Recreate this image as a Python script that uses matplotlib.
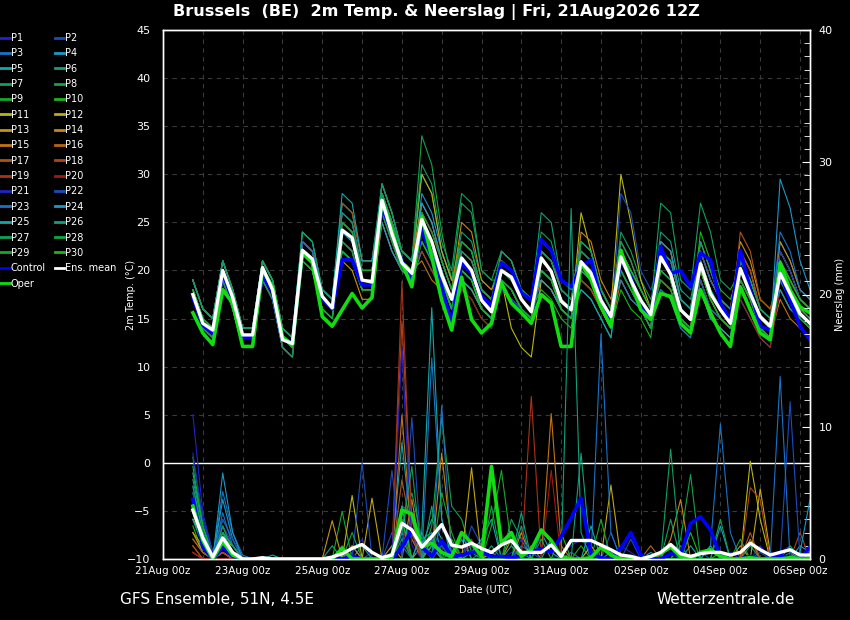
import numpy as np
import pandas as pd
import matplotlib
matplotlib.use("Agg")
import matplotlib.pyplot as plt
import matplotlib.dates as mdates
from matplotlib.ticker import MultipleLocator
from matplotlib.lines import Line2D

# --- tijdas: 6-uurlijkse stappen vanaf 21Aug 18z ---
times = pd.date_range("2026-08-21 18:00", periods=63, freq="6h")

# --- gemiddelde, controle en operationele run (2m temp, degC) ---
mean_t = [17.5,14.5,13.8,20.0,17.2,13.3,13.3, 20.3,18.0,12.8,12.4, 22.1,21.2,17.3,16.1, 24.2,23.4,19.0,18.8,
          27.3,23.8,20.8,19.7, 25.3,23.0,19.5,17.0, 21.3,20.0,16.9,15.7, 20.0,19.3,17.0,15.7, 21.3,19.9,16.8,15.9,
          20.9,19.7,16.9,15.2, 21.4,19.0,16.9,15.4, 21.4,19.6,15.9,14.9, 20.7,17.6,15.9,14.5, 20.2,17.6,15.2,14.2,
          19.7,17.6,15.5,14.5]
ctrl_t = [17.2,14.3,13.5,19.8,17.0,13.0,13.0, 19.5,17.8,12.8,12.5, 21.8,21.0,17.0,16.0, 21.1,21.1,18.5,18.5,
          26.6,24.0,21.0,19.0, 24.2,21.4,18.3,14.5, 20.8,19.7,17.3,16.4, 20.8,20.0,17.7,16.9, 23.2,22.1,19.0,18.3,
          20.4,21.1,16.9,14.9, 21.1,19.4,16.2,14.9, 22.5,19.7,20.0,18.3, 21.8,21.1,16.6,14.9, 22.1,18.0,14.2,13.8,
          19.7,16.9,14.2,12.8]
oper_t = [15.6,13.5,12.3,18.0,16.6,12.1,12.1, 20.1,18.3,13.1,12.3, 21.8,20.8,15.2,14.2, 15.9,17.6,16.1,17.2,
          27.3,24.2,20.8,18.3, 25.6,21.4,16.9,13.8, 19.3,14.9,13.5,14.5, 18.7,16.6,15.6,14.5, 17.5,16.6,12.1,12.1,
          20.8,19.0,16.2,14.2, 22.1,19.0,15.9,14.9, 17.6,17.3,14.5,13.5, 18.0,15.6,13.5,12.1, 18.3,15.9,13.5,12.8,
          20.8,18.0,16.2,15.6]

# --- neerslag (mm) ---
mean_rr = [3.7,1.6,0.15,1.6,0.5,0,0, 0.1,0,0,0, 0,0,0,0.15, 0.4,0.8,1.1,0.5, 0.1,0.3,2.7,2.2, 0.9,1.7,2.6,1.06,
           0.9,1.2,0.8,0.5, 1.06,1.4,0.5,0.5, 0.5,1.06,0.2,1.4, 1.4,1.4,1.06,0.7, 0.3,0.2,0,0.2, 0.5,1.1,0.4,0.2,
           0.4,0.5,0.5,0.3, 0.5,1.2,0.7,0.3, 0.5,0.7,0.3,0.3]
ctrl_rr = [4.5,0.9,0,0.9,0.2,0,0, 0,0,0,0, 0,0,0,0, 0,0.2,0,0, 0,0,0.9,2.2, 0.9,0.2,1.4,0.2, 0.3,0.5,0.5,0.2,
           0.2,0.1,0.2,0.5, 0.8,0.5,1.7,3.1, 4.6,0.4,0.1,0, 0.8,2.0,0.3,0, 0,0.4,0.3,2.7, 3.2,2.2,0.2,0,
           0,0.2,0,0, 0.3,0,0,0.9]
oper_rr = [4.0,1.4,0,1.3,0.3,0,0, 0,0,0,0, 0,0,0,0, 0.8,0,0,0, 0,0.1,3.7,3.4, 0.9,1.2,0.5,0.2, 2.0,1.2,0.2,7.0,
           1.2,2.0,0.2,0.7, 2.2,1.4,0.2,0, 0,0.1,0.9,0.3, 0,0,0,0.2, 0.4,0.9,0.2,0, 0.5,0.7,0.2,0,
           0,0.1,0,0, 0,0.1,0,0]

# --- ensemble leden P1..P30, temperatuur ---
p01_t = [18,15,14,20,17,13,13, 20,18,13,12, 23,22,18,17, 26,25,20,20, 28,25,22,21, 24,22,19,16, 19,18,16,15, 21,20,18,17, 21,20,17,16, 20,19,16,14, 23,21,18,16, 22,21,17,16, 19,16,15,14, 20,18,15,14, 21,19,17,16]
p02_t = [17,14,13,19,16,12,12, 19,17,12,11, 22,21,17,16, 23,22,18,18, 25,22,20,19, 27,25,21,18, 22,21,18,17, 19,18,16,15, 19,18,16,15, 21,20,17,15, 20,18,16,14, 23,22,17,16, 22,19,17,16, 19,17,14,13, 18,16,15,14]
p03_t = [19,16,15,21,18,14,14, 21,19,14,13, 23,22,18,17, 27,26,21,21, 29,26,22,21, 25,23,20,17, 20,19,16,15, 22,21,18,17, 22,21,18,17, 19,18,16,14, 21,19,17,15, 20,19,15,14, 23,20,17,16, 21,19,16,15, 20,18,16,15]
p04_t = [17,14,13,19,16,12,12, 19,17,12,11, 21,20,16,15, 24,23,19,19, 26,23,20,19, 28,26,22,19, 23,22,18,17, 18,17,16,15, 21,20,17,16, 22,21,18,16, 19,17,16,14, 21,20,16,15, 20,17,15,14, 22,20,16,15, 23,21,18,17]
p05_t = [18,15,14,20,17,13,13, 20,18,13,12, 22,21,17,16, 22,21,18,18, 26,23,20,19, 22,20,18,15, 20,19,16,15, 20,19,17,16, 23,22,18,17, 23,22,18,16, 22,20,18,16, 19,18,15,14, 21,18,16,15, 17,15,13,12, 19,17,15,14]
p06_t = [19,16,15,21,18,14,14, 21,19,14,13, 24,23,18,17, 26,25,20,20, 28,25,22,21, 26,24,21,18, 24,23,19,18, 21,20,18,17, 20,19,16,15, 18,17,15,13, 21,19,17,15, 24,23,18,17, 22,19,17,16, 20,18,15,14, 18,16,15,14]
p07_t = [18,15,14,20,17,13,13, 20,18,13,12, 21,20,16,15, 23,22,18,18, 27,24,21,20, 30,28,22,19, 21,20,17,16, 18,17,16,15, 22,21,18,17, 21,20,17,15, 24,22,19,17, 20,19,15,14, 19,16,15,14, 19,17,14,13, 22,20,17,16]
p08_t = [19,16,15,21,18,14,14, 21,19,14,13, 23,22,18,17, 27,26,21,21, 29,26,22,21, 34,31,24,19, 27,26,20,19, 22,21,18,17, 24,23,19,18, 22,21,18,16, 20,18,16,14, 22,21,17,16, 23,20,17,16, 18,16,14,13, 20,18,16,15]
p09_t = [18,15,14,20,17,13,13, 20,18,13,12, 23,22,18,17, 25,24,20,20, 26,23,20,19, 23,21,19,16, 18,17,15,14, 19,18,16,15, 20,19,16,15, 23,22,18,16, 22,20,18,16, 18,17,14,13, 21,18,16,15, 21,19,16,15, 19,17,15,14]
p10_t = [18,15,14,20,17,13,13, 20,18,13,12, 21,20,16,15, 22,21,18,18, 28,25,22,21, 26,24,21,18, 23,22,18,17, 20,19,17,16, 18,17,15,14, 20,19,16,14, 18,16,15,13, 21,20,16,15, 24,21,18,17, 20,18,15,14, 21,19,17,16]
p11_t = [19,16,15,21,18,14,14, 21,19,14,13, 22,21,17,16, 23,22,18,18, 27,24,21,20, 24,22,19,16, 22,21,18,17, 19,14,12,11, 19,18,16,15, 26,22,18,16, 30,25,19,16, 19,18,15,14, 20,17,15,14, 21,19,16,15, 22,20,17,16]
p12_t = [18,15,14,20,17,13,13, 20,18,13,12, 23,22,18,17, 25,24,20,20, 28,25,22,21, 30,28,22,19, 19,18,16,15, 19,18,16,15, 21,20,17,16, 19,18,16,14, 22,20,18,16, 22,21,17,16, 18,15,14,13, 19,17,14,13, 20,18,16,15]
p13_t = [17,14,13,19,16,12,12, 19,17,12,11, 22,21,17,16, 21,20,17,17, 25,22,20,19, 24,22,19,16, 20,19,16,15, 21,20,18,17, 22,21,18,17, 21,20,17,15, 20,18,16,14, 23,22,17,16, 22,19,17,16, 23,21,17,16, 19,17,15,14]
p14_t = [18,15,14,20,17,13,13, 20,18,13,12, 21,20,16,15, 25,24,20,20, 28,25,22,21, 27,25,21,18, 25,24,19,18, 20,19,17,16, 19,18,16,15, 24,23,19,17, 23,21,18,16, 20,19,15,14, 19,16,15,14, 20,18,15,14, 23,21,18,17]
p15_t = [18,15,14,20,17,13,13, 20,18,13,12, 23,22,18,17, 26,25,20,20, 27,24,21,20, 21,19,18,15, 19,18,16,15, 21,20,18,17, 21,20,17,16, 20,19,16,14, 19,17,16,14, 21,20,16,15, 22,19,17,16, 18,16,14,13, 17,15,14,13]
p16_t = [19,16,15,21,18,14,14, 21,19,14,13, 22,21,17,16, 23,22,18,18, 29,26,22,21, 26,24,21,18, 22,21,18,17, 19,18,16,15, 22,21,18,17, 21,20,17,15, 21,19,17,15, 20,19,15,14, 21,18,16,15, 22,20,16,15, 21,19,17,16]
p17_t = [18,15,14,20,17,13,13, 20,18,13,12, 22,21,17,16, 24,23,19,19, 26,23,20,19, 23,21,19,16, 20,19,16,15, 22,21,18,17, 20,19,16,15, 22,21,18,16, 20,18,16,14, 23,22,17,16, 20,17,15,14, 24,22,17,16, 20,18,16,15]
p18_t = [17,14,13,19,16,12,12, 19,17,12,11, 23,22,18,17, 27,26,21,21, 28,25,22,21, 25,23,20,17, 21,20,17,16, 19,18,16,15, 23,22,18,17, 20,19,16,14, 22,20,18,16, 21,20,16,15, 23,20,17,16, 22,20,16,15, 19,17,15,14]
p19_t = [19,16,15,21,18,14,14, 21,19,14,13, 21,20,16,15, 23,22,18,18, 27,24,21,20, 22,20,18,15, 22,21,18,17, 20,19,17,16, 20,19,16,15, 19,18,16,14, 21,19,17,15, 19,18,15,14, 20,17,15,14, 19,17,14,13, 21,19,17,16]
p20_t = [18,15,14,20,17,13,13, 20,18,13,12, 22,21,17,16, 25,24,20,20, 26,23,20,19, 26,24,21,18, 18,17,15,14, 21,20,18,17, 21,20,17,16, 22,21,18,16, 23,21,18,16, 20,19,15,14, 22,19,17,16, 17,15,13,12, 18,16,15,14]
p21_t = [18,15,14,20,17,13,13, 20,18,13,12, 23,22,18,17, 26,25,20,20, 28,25,22,21, 23,21,19,16, 21,20,17,16, 18,17,16,15, 20,19,16,15, 21,20,17,15, 20,18,16,14, 22,21,17,16, 21,18,16,15, 21,19,16,15, 22,20,17,16]
p22_t = [17,14,13,19,16,12,12, 19,17,12,11, 22,21,17,16, 23,22,18,18, 26,23,20,19, 25,23,20,17, 20,19,16,15, 21,20,18,17, 21,20,17,16, 20,19,16,14, 28,26,20,18, 21,20,16,15, 19,16,15,14, 18,16,14,13, 19,17,15,14]
p23_t = [19,16,15,21,18,14,14, 21,19,14,13, 23,22,18,17, 25,24,20,20, 29,26,22,21, 24,22,19,16, 23,22,18,17, 20,19,17,16, 22,21,18,17, 23,22,18,16, 19,17,16,14, 18,17,14,13, 22,19,17,16, 20,18,15,14, 24,22,18,17]
p24_t = [18,15,14,20,17,13,13, 20,18,13,12, 22,21,17,16, 24,23,19,19, 25,22,20,19, 27,25,21,18, 20,19,16,15, 21,20,18,17, 19,18,16,15, 20,19,16,14, 22,20,18,16, 23,22,17,16, 21,18,16,15, 19,17,14,13, 29.5,26.5,21,18]
p25_t = [19,16,15,21,18,14,14, 21,19,14,13, 24,23,18,17, 28,27,21,21, 28,25,22,21, 25,23,20,17, 19,18,16,15, 19,18,16,15, 20,19,16,15, 18,17,15,13, 21,19,17,15, 20,19,15,14, 18,15,14,13, 21,19,16,15, 18,16,15,14]
p26_t = [18,15,14,20,17,13,13, 20,18,13,12, 21,20,16,15, 22,21,18,18, 27,24,21,20, 24,22,19,16, 22,21,18,17, 22,21,18,17, 26,25,19,18, 21,20,17,15, 20,18,16,14, 22,21,17,16, 23,20,17,16, 18,16,14,13, 20,18,16,15]
p27_t = [19,16,15,21,18,14,14, 21,19,14,13, 24,23,18,17, 26,25,20,20, 29,26,22,21, 31,29,23,20, 28,27,20,19, 19,18,16,15, 22,21,18,17, 22,21,18,16, 23,21,18,16, 27,26,19,18, 27,24,19,18, 20,18,15,14, 19,17,15,14]
p28_t = [17,14,13,19,16,12,12, 19,17,12,11, 22,21,17,16, 23,22,18,18, 28,25,22,21, 23,21,19,16, 20,19,16,15, 20,19,17,16, 20,19,16,15, 23,22,18,16, 21,19,17,15, 19,18,15,14, 20,17,15,14, 21,19,16,15, 21,19,17,16]
p29_t = [18,15,14,20,17,13,13, 20,18,13,12, 21,20,16,15, 25,24,20,20, 26,23,20,19, 26,24,21,18, 23,22,18,17, 19,18,16,15, 21,20,17,16, 20,19,16,14, 20,18,16,14, 20,19,15,14, 21,18,16,15, 19,17,14,13, 19,17,15,14]
p30_t = [18,15,14,20,17,13,13, 20,18,13,12, 22,21,17,16, 22,21,18,18, 27,24,21,20, 23,21,19,16, 20,19,16,15, 21,20,18,17, 20,19,16,15, 21,20,17,15, 22,20,18,16, 21,20,16,15, 20,17,15,14, 20,18,15,14, 21,19,17,16]

# --- ensemble leden P1..P30, neerslag ---
p01_rr = [10.9,3.5,0.5,2.5,1.0,0,0, 0,0,0,0, 0,0,0,0, 0,0.5,1.5,0, 0,1.0,3.0,1.5, 0.5,2.0,1.0,0, 0.5,1.0,0,0, 0,0.5,0,0, 0,0,0.5,1.0, 1.5,0.5,0,0, 0,0,0,0, 0,0.5,0,0, 0,0,0,0.5, 0,0,1.0,0, 0.5,1.0,0,0]
p02_rr = [5.5,2.0,0,1.5,0.5,0,0, 0,0,0,0, 0,0,0,0, 0.5,0,0,0.5, 0,2.0,1.5,3.0, 1.0,0.5,2.5,1.0, 0,2.5,1.0,0, 1.0,2.0,0,0.5, 0,0,0,0, 0,0,0,2.0, 0,1.5,0,0, 0,0,0,0, 0.5,0,0,0, 0,0,0.5,0, 0,0,0,0]
p03_rr = [4.0,1.0,0,5.1,2.0,0.3,0, 0,0,0,0, 0,0,0,0, 0,0,0,0, 0,0,1.0,2.0, 0,15.2,3.0,0.5, 0,0,0.5,0, 0,0,1.0,0.5, 0,0,0,0.5, 0,0,0,0, 0,0,0,0, 0,0.5,0,0, 0,1.0,10.2,2.0, 0,0,0,0, 0,0.5,0,0]
p04_rr = [3.0,1.5,0,4.5,1.5,0,0, 0,0,0,0, 0,0,0,0, 0,1.0,0,0, 0,0,2.0,0, 0,1.5,0.5,0, 1.5,0,0,0, 0,0,0.5,0, 2.0,0.5,0,0, 0,0,0,0, 0,0,0,0.5, 0,0,0,0, 0,0,2.5,0, 0,0,0,0, 0,0,1.0,0.5]
p05_rr = [6.5,2.5,0.5,2.0,1.0,0,0, 0,0,0,0, 0,0,0,0, 0,0,0,0, 0,0.5,8.8,2.0, 1.0,3.0,1.5,0.5, 0,0.5,1.5,3.0, 0,1.0,0,0, 0,1.5,0,0, 0,0,0,0.5, 0,0,0,0, 0,0,0,1.0, 0,0,0,0, 0,0,0,0, 0,0,0,0]
p06_rr = [4.5,1.0,0,1.0,0.5,0,0, 0,0,0,0, 0,0,0,1.0, 0,0,1.0,0, 0,0,0,0, 2.0,0,1.0,0, 0,0,0,1.0, 0,0,2.5,0, 0,0,0,26.5, 2.0,0,0,0, 0,0,0,0, 0,0,1.0,0, 0,0,0,0, 0,0,0,0, 0,0,0,0]
p07_rr = [7.7,3.0,0.5,3.0,1.5,0,0, 0,0,0,0, 0,0,0,0, 1.0,0,0,0, 0,0,2.5,5.0, 1.5,2.0,0,0.5, 0,0,0,0, 0,3.0,1.5,0, 0,0,0,0, 0,0,0,0, 0,0,0,0, 0,3.0,0,0, 0,0,0,0, 0,1.0,0,0, 0,0,0,0.5]
p08_rr = [5.0,2.0,0,2.0,0.5,0,0, 0,0,0,0, 0,0,0,0, 0,0,0,0, 0,0,4.0,3.5, 0,2.5,10.7,4.0, 3.0,0.5,0,0, 0,0,0,0, 0,0,0,0, 0,0,0,0, 0,0,0,0, 0,0,1.5,6.4, 0,0,0,0, 0,0,0,0, 0,0,0.5,0]
p09_rr = [3.5,1.0,0,1.5,0,0,0, 0,0,0,0, 0,0,0,0, 3.6,0,0,0, 0,0,0,0, 0,0,0,1.5, 0,0,0,2.5, 6.7,1.0,0,0, 0,0,0,0, 1.0,0,0,0, 0,0,0,0, 0,0,0,0, 0,0,0.5,0, 0,0,0,0, 0,1.0,0,0]
p10_rr = [2.5,0.5,0,1.0,0,0,0, 0,0,0,0, 0,0,0,0, 0,0,0,0, 0,0,1.5,0, 0,1.0,0,0, 0,0,0,0, 0,0,0,0, 0,0,2.0,0, 0,0,0,0, 0,0,0,0, 0,0,0,0, 0,0,0,0, 0,0,0,0, 0,0,0,0]
p11_rr = [2.0,0.5,0,1.5,1.0,0,0, 0,0,0,0, 0,0,0,0, 0,4.8,0,0, 0,0,0,0, 0,0,0,0, 0,0,0,0.5, 0,0,0,0, 0,0,0,0, 0,1.0,0,0, 0,0,0,0, 0,0,0,0, 0,0,0,0, 0,7.4,3.0,0, 0,0,0,0]
p12_rr = [3.0,1.5,0,2.5,1.0,0,0, 0,0,0,0, 0,0,0,0, 0,0,0,4.6, 0,0,0,0, 0,0,0,0, 0,6.9,0,0, 0,0,0,0, 0,0,0,0, 0,0,0,5.6, 0,0,0,0, 0,0,0,0, 0,0,0,0, 0,0,5.3,0.5, 0,0,0,0]
p13_rr = [2.0,1.0,0,1.0,0.5,0,0, 0,0,0,0, 0,0,0,2.9, 0,0,0,0, 0,1.0,0,0, 1.0,0,0,0, 0,0,0,0, 0,0,2.0,0, 0,0,0,0, 0,0,0,0, 0,0,0,0, 0,0,0,0, 0,0,0,0, 1.0,0,0,0, 0,0,0,0]
p14_rr = [1.5,0.5,0,0.5,0,0,0, 0,0,0,0, 0,0,0,0, 0,1.0,0,0, 0,0,0,4.5, 0,0,8.0,1.0, 0,0,0,0, 0,1.5,0,0, 0,0,0,0, 0,0,0,0, 0,0,0,0, 0,1.5,4.5,0, 0,0,0,0, 0,0,0,0, 0,0,0,0]
p15_rr = [1.0,0,0,0.5,0,0,0, 0,0,0,0, 0,0,0,0, 0,0,0,0, 0,0,10.9,1.5, 0,1.0,0,0, 0,0,0,0, 0,0,0,1.0, 0,11.0,1.0,0, 0,0,0,0, 0,0,0,0, 0,0,0,0, 0,0,0,0, 0,1.5,0,0, 0,0,0,0]
p16_rr = [0.5,0,0,0.5,0,0,0, 0,0,0,0, 0,0,0,0, 0,0,0,0, 0,0,3.0,0, 0,0,0,0, 0,0,0,0, 0,0,0,0, 0,0,0,0, 0,0,0,0, 0,0,0,1.0, 0,0,0,0, 0,0,0,0, 0,0,0,0, 0,0,0,0]
p17_rr = [1.5,0.5,0,0.5,0,0,0, 0,0,0,0, 0,0,0,0, 0,0,0,0, 0,0,6.0,2.0, 0,0,0,0, 0,0,0,0, 0,0,0,0, 0,0,0,0, 0,0,0,0, 0,0,0,0, 0,0,0,0, 0,0,0,0, 0,2.0,0,0, 0,0,0,0]
p18_rr = [1.0,0,0,0.5,0,0,0, 0,0,0,0, 0,0,0,0, 0,0,0,0, 0,0,18.0,3.0, 0,0,0,0, 0,0,0,0, 0,0,0,0, 0,0,0,0, 0,0,0,0, 0,0,0,0, 0,0,0,0, 0,0,0,0, 0,5.4,4.5,0, 0,0,2.0,0]
p19_rr = [0.5,0,0,0,0,0,0, 0,0,0,0, 0,0,0,0, 0,0,0,0, 0,0,21.0,2.0, 0,0,0,0, 0,0,0,0, 0,0,0,12.3, 0,0,0,0, 0,0,0,0, 0,0,0,0, 0,0,0,0, 0,0,0,0, 0,0,0,0, 0,0,0,0]
p20_rr = [0.5,0,0,0,0,0,0, 0,0,0,0, 0,0,0,0, 0,0,0,0, 0,0,2.5,0, 0,0,0,0, 0,1.5,0,0, 0,0,0,0, 0,6.7,0,0, 0,0,0,0, 0,0,0,0, 0,0,0,0, 0,0,0,0, 0,0,0,0, 0,0,0,0]
p21_rr = [8.0,3.0,0.5,2.5,1.0,0,0, 0,0,0,0, 0,0,0,0, 0,0,0,0, 0,0,16.0,1.0, 0,0,0,0, 0,0,0,0, 0,0,1.5,0.5, 0,0,0,0, 0,0,0,0, 1.0,0.5,0,0, 0,0,0,0, 0,0,0,0, 0,0,0,0, 0,0,0,0]
p22_rr = [5.0,2.0,0,3.0,1.5,0,0, 0,0,0,0, 0,0,0,0, 0,0,7.3,0, 0,6.7,0,10.7, 0,0,1.0,0, 0,0,0,0, 0,0,0,0, 0,0,0,0, 0,0,0,0, 0,0,0,0, 0,0,0,0, 0,0,0,0, 0,0,0,0, 0,11.9,0,0]
p23_rr = [4.0,1.5,0,3.5,1.0,0,0, 0,0,0,0, 0,0,0,0, 0,0,0,0, 0,0,1.0,0, 0,0,11.6,0, 0,0,0,0, 0,0,0,0, 0,0,0,0, 0,0,17.0,2.0, 0,0,0,0, 0,0,0,0, 0,0,0,0, 0,0,0,0, 13.8,0,0,0]
p24_rr = [3.5,2.0,0,6.5,2.0,0,0, 0,0,0,0, 0,0,0,0, 0,0,0,0, 0,0,0,0, 0,1.0,0,0, 0,0,0,0, 0,0,0,0, 0,0,0,0, 0,0,0,0, 0,0,0,0, 0,0,0,0, 0,1.0,0,0, 0,0,0,0, 0,0,0.5,4.5]
p25_rr = [3.0,1.0,0,2.0,0.5,0,0, 0,0.3,0,0, 0,0,0,0, 0,0,0,0, 0,0,4.0,0, 2.0,19.0,3.0,0, 2.0,0,0,0, 0,0,0,0, 0,0,0,0, 0,2.5,0,0, 0,0,0,0, 0,0,0,0, 0,0,0,0, 0,0,0,0, 0,0,0,0]
p26_rr = [6.0,2.5,0,2.0,1.0,0,0, 0,0,0,0, 0,0,0,0, 0,0,0,0, 0,0,0,0, 0,4.0,0,0, 0,0,0,0, 0,0,3.5,0, 0,0,0,0, 8.0,0,0,0, 0,0,0,0, 0,0,0,0, 0,0,0,0, 0,0,0,0, 0,0,0,0]
p27_rr = [5.5,2.0,0,2.0,1.0,0,0, 0,0,0,0, 0,0,0,0, 0,0,0,0, 0,0,2.0,7.0, 0,0,0,0, 0,0,0,0, 0,0,0,0, 1.5,0,0,0, 0,0,0,0, 0,0,0,0, 0,8.3,0,0, 0,0,0,0, 0,0,0,0, 0,0,0,0]
p28_rr = [4.5,1.5,0,2.5,0.5,0,0, 0,0,0,0, 0,0,0,0, 0,2.0,0,0, 0,0,0,0, 0,0,0,0, 0,0,0,4.0, 0,0,0,0, 0,0,0,0, 0,0,0,0, 0,0,0,0, 0,0,0,0, 0,0,3.0,0, 1.5,0,0,0, 0,0,0,0]
p29_rr = [7.0,2.5,0,1.5,0.5,0,0, 0,0,0,0, 0,0,0,0, 0,0,0,0, 0,0,0,0, 0,0,5.0,2.0, 0,0,0,0, 0,2.0,0,0, 0,0,0,0, 0,0,3.0,0, 0,0,0,0, 0,0,0,0, 0,0,0,0, 0,0,0,0, 0,0,0,0]
p30_rr = [4.0,1.5,0,1.5,0.5,0,0, 0,0,0,0, 0,0,0,0, 0,0,0,0, 0,0,3.0,0, 0,0,0,0, 0,0,0,0, 0,0,0,0, 0,0,0,0, 0,0,0,0, 0,0,0,0, 0,0,0,2.0, 0,0,0,0, 0,0,0,0, 0,0,0,0]

# kleuren P1..P20, P21..P30 herhalen P1..P10
kleuren = ["#2222cc", "#1a4cbf", "#1a72c4", "#1a98c8", "#12a8a8", "#10a07c", "#10a05c", "#10a444", "#12aa2c", "#18b818",
           "#b8b812", "#c0a812", "#c49412", "#c88412", "#c07414", "#b86414", "#b05414", "#b04418", "#a83218", "#a01818"]
kleuren = kleuren + kleuren[:10]

leden_t = [p01_t, p02_t, p03_t, p04_t, p05_t, p06_t, p07_t, p08_t, p09_t, p10_t,
           p11_t, p12_t, p13_t, p14_t, p15_t, p16_t, p17_t, p18_t, p19_t, p20_t,
           p21_t, p22_t, p23_t, p24_t, p25_t, p26_t, p27_t, p28_t, p29_t, p30_t]
leden_rr = [p01_rr, p02_rr, p03_rr, p04_rr, p05_rr, p06_rr, p07_rr, p08_rr, p09_rr, p10_rr,
            p11_rr, p12_rr, p13_rr, p14_rr, p15_rr, p16_rr, p17_rr, p18_rr, p19_rr, p20_rr,
            p21_rr, p22_rr, p23_rr, p24_rr, p25_rr, p26_rr, p27_rr, p28_rr, p29_rr, p30_rr]

ctrl_kleur = "#0000ff"
oper_kleur = "#11dd11"
grid_kleur = "#3a3a3a"

fig = plt.figure(figsize=(8.5, 6.2), dpi=100, facecolor="black")
ax = fig.add_axes([163/850, 61/620, 647/850, 529/620], facecolor="black")
ax2 = ax.twinx()

# temperatuur
for serie, kl in zip(leden_t, kleuren):
    ax.plot(times, serie, color=kl, lw=0.8)
ax.plot(times, ctrl_t, color=ctrl_kleur, lw=2.6)
ax.plot(times, oper_t, color=oper_kleur, lw=2.6)
ax.plot(times, mean_t, color="white", lw=2.4)

# neerslag op rechteras
for serie, kl in zip(leden_rr, kleuren):
    ax2.plot(times, serie, color=kl, lw=0.8)
ax2.plot(times, ctrl_rr, color=ctrl_kleur, lw=2.6)
ax2.plot(times, oper_rr, color=oper_kleur, lw=2.6)
ax2.plot(times, mean_rr, color="white", lw=2.4)

ax.axhline(0, color="white", lw=1.0, zorder=1)

# assen
ax.set_xlim(pd.Timestamp("2026-08-21 00:00"), pd.Timestamp("2026-09-06 06:00"))
ax.set_ylim(-10, 45)
ax.set_yticks(np.arange(-10, 46, 5))
ax2.set_ylim(0, 40)
ax2.set_yticks([0, 10, 20, 30, 40])
ax2.yaxis.set_minor_locator(MultipleLocator(1))

ax.set_xticks(pd.date_range("2026-08-21", "2026-09-06", freq="2D"))
ax.set_xticks(pd.date_range("2026-08-21", "2026-09-06", freq="D"), minor=True)
ax.xaxis.set_major_formatter(mdates.DateFormatter("%d%b %Hz"))

ax.grid(True, which="both", axis="x", color=grid_kleur, ls=(0, (4, 4)), lw=0.8)
ax.grid(True, which="major", axis="y", color=grid_kleur, ls=(0, (4, 4)), lw=0.8)
ax.set_axisbelow(True)

for a in (ax, ax2):
    for sp in a.spines.values():
        sp.set_color("white")
        sp.set_linewidth(1.0)
ax.tick_params(axis="x", colors="white", labelsize=7.5, length=0, pad=5, which="both")
ax.tick_params(axis="y", colors="white", labelsize=8, direction="in", length=0, pad=9)
ax2.tick_params(axis="y", colors="white", labelsize=8, direction="in", length=6, pad=6)
ax2.tick_params(axis="y", which="minor", colors="white", direction="in", length=4)

# teksten
fig.text(436/850, 1 - 12/620, "Brussels  (BE)  2m Temp. & Neerslag | Fri, 21Aug2026 12Z",
         color="white", fontsize=11.6, fontweight="bold", ha="center", va="center")
fig.text(120/850, 1 - 599/620, "GFS Ensemble, 51N, 4.5E", color="white", fontsize=11, ha="left", va="center")
fig.text(795/850, 1 - 599/620, "Wetterzentrale.de", color="white", fontsize=11, ha="right", va="center")
fig.text(486/850, 1 - 589/620, "Date (UTC)", color="white", fontsize=7, ha="center", va="center")
fig.text(131/850, 1 - 295/620, "2m Temp. (°C)", color="white", fontsize=7, rotation=90, ha="center", va="center")
fig.text(840/850, 1 - 294/620, "Neerslag (mm)", color="white", fontsize=7, rotation=90, ha="center", va="center")

# legenda: rij-gewijs P1 | P2, dus kolommen apart opbouwen
namen = ["P%d" % (i + 1) for i in range(30)]
h_links, l_links, h_rechts, l_rechts = [], [], [], []
for i, (naam, kl) in enumerate(zip(namen, kleuren)):
    h = Line2D([], [], color=kl, lw=2)
    if i % 2 == 0:
        h_links.append(h); l_links.append(naam)
    else:
        h_rechts.append(h); l_rechts.append(naam)
h_links += [Line2D([], [], color=ctrl_kleur, lw=2), Line2D([], [], color=oper_kleur, lw=2)]
l_links += ["Control", "Oper"]
h_rechts += [Line2D([], [], color="white", lw=2)]
l_rechts += ["Ens. mean"]
leg = fig.legend(h_links + h_rechts, l_links + l_rechts, ncol=2, loc="upper left",
                 bbox_to_anchor=(0.0, 1 - 33/620), frameon=False, fontsize=7,
                 handlelength=1.0, handletextpad=0.1, columnspacing=0.9,
                 labelspacing=0.55, borderpad=0, borderaxespad=0)
for t in leg.get_texts():
    t.set_color("white")

fig.savefig("out.png", dpi=100, facecolor="black")
